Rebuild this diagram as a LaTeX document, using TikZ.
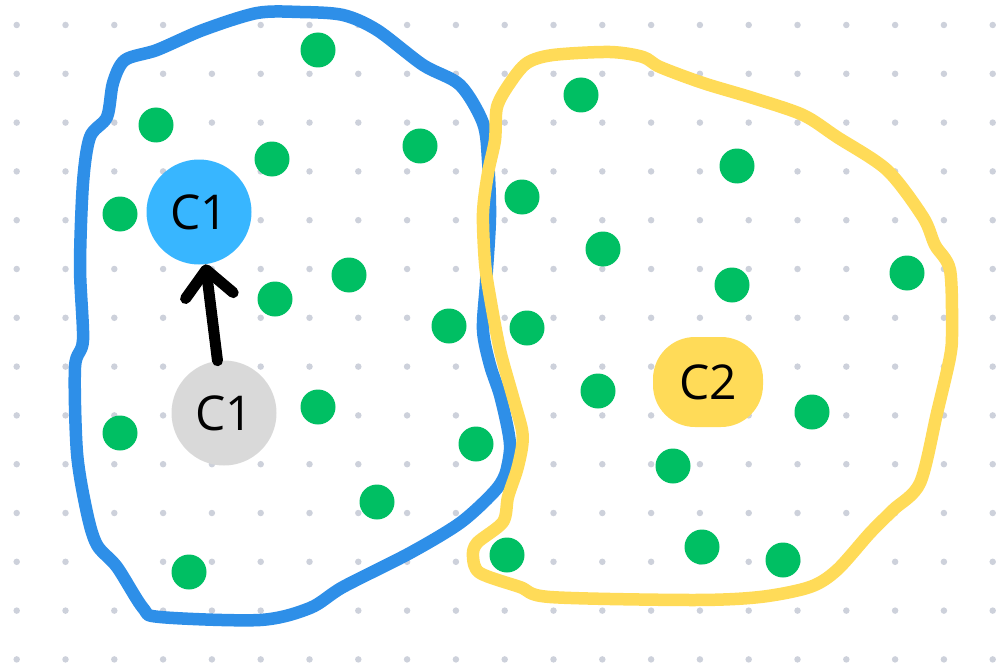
\documentclass[tikz,border=0pt]{standalone}
\usepackage{fontspec}
\setsansfont{Open Sans}
\usetikzlibrary{arrows.meta,positioning}
\definecolor{gridgray}{HTML}{CDD1DB}
\definecolor{ptgreen}{HTML}{00BF63}
\definecolor{loopblue}{HTML}{2E8FE8}
\definecolor{newblue}{HTML}{38B6FF}
\definecolor{oldgray}{HTML}{D9D9D9}
\definecolor{loopyellow}{HTML}{FFDB58}
\tikzset{
  gridpt/.style={circle, fill=gridgray, inner sep=0pt, minimum size=6.5pt},
  point/.style={circle, fill=ptgreen, inner sep=0pt, minimum size=35pt},
  centroid/.style={circle, inner sep=0pt, minimum size=105pt,
    font=\sffamily\fontsize{48}{48}\selectfont},
  cluster/.style={line width=12.5pt, line cap=round, line join=round},
  move/.style={line width=11pt, line cap=round,
    -{Straight Barb[length=26pt, width=48pt, line cap=round, line join=round]}}
}

\begin{document}
\begin{tikzpicture}[x=1pt, y=-1pt]
  \useasboundingbox (0,0) rectangle (998,666);

  % dotted background
  \foreach \i in {0,...,20}
    \foreach \j in {0,...,13}
      \node[gridpt] (g\i-\j) at ({16.7+48.8*\i}, {25+48.8*\j}) {};

  % cluster outlines
  \draw[cluster, loopblue] plot[smooth cycle, tension=0.5] coordinates {
    (125,60) (157,50) (203,30) (257,13) (300,12) (343,15) (377,30) (423,65)
    (460,85) (483,123) (488,160) (490,217) (486,283) (483,330) (490,365)
    (500,395) (508,430) (510,450) (505,475) (493,493) (460,523) (410,553)
    (343,587) (310,608) (260,620) (160,617) (143,608) (117,567) (97,545)
    (87,513) (77,453) (75,367) (83,340) (80,267) (83,183) (90,137)
    (107,117) (113,83)};
  \draw[cluster, loopyellow] plot[smooth cycle, tension=0.5] coordinates {
    (497,107) (510,83) (527,63) (553,55) (610,52) (643,57) (660,67)
    (703,83) (753,98) (803,115) (837,137) (887,170) (923,217) (935,245)
    (950,270) (952,330) (950,357) (937,413) (920,483) (893,510) (870,533)
    (837,570) (810,587) (760,597) (693,600) (550,597) (520,587) (480,573)
    (473,557) (477,543) (503,522) (508,497) (517,470) (522,447) (522,430)
    (513,397) (500,350) (490,297) (485,263) (483,213) (488,173) (495,140)};

  % data points
  \foreach \x/\y [count=\n] in {318/50, 156/125, 272/159, 420/146, 120/214,
      349/275, 275/299, 449/326, 318/407, 120/433, 476/444, 377/502,
      189/572, 581/95, 737/166, 522/197, 603/249, 732/285, 907/273,
      527/328, 598/391, 812/412, 673/466, 702/547, 783/560, 507/555}
    \node[point] (p\n) at (\x,\y) {};

  % centroids
  \node[centroid, fill=oldgray] (c1old) at (224,413) {C1};
  \node[centroid, fill=newblue] (c1new) at (199,212) {C1};
  \node[centroid, fill=loopyellow, shape=rectangle, rounded corners=42pt,
    minimum width=110pt, minimum height=90pt] (c2) at (708,382) {C2};

  \draw[move] (c1old) -- (c1new);
\end{tikzpicture}
\end{document}
